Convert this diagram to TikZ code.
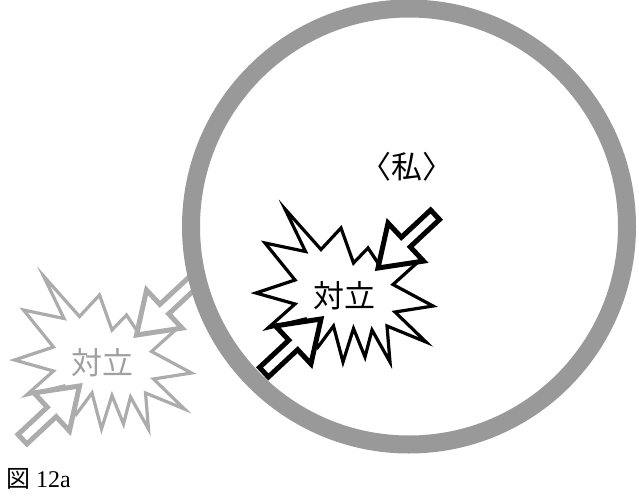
\documentclass[tikz,border=0pt]{standalone}
\usepackage{fontspec}
\setmainfont{Liberation Serif}
\newfontfamily\jp{Noto Sans CJK JP}
\definecolor{ringgray}{RGB}{153,153,153}
\definecolor{fadegray}{RGB}{172,172,172}
\definecolor{fadetext}{RGB}{160,160,160}
\tikzset{
  burst/.style={draw=#1, fill=white, line width=3.2pt, line join=miter, miter limit=20},
  blockarrow/.style={draw=#1, fill=white, line width=5pt, line join=miter, miter limit=6},
  ring/.style={draw=ringgray, line width=18pt},
  jptext/.style={font=\jp\fontsize{31}{31}\selectfont},
}
\newcommand\starpath{(285,-209) -- (321,-249.5) -- (341,-228) -- (353.5,-263) -- (368,-248) -- (380,-266) -- (418,-262) -- (393,-284.5) -- (433,-306) -- (395,-312) -- (426,-342) -- (387,-326) -- (390,-362) -- (372,-330) -- (365,-357) -- (353.5,-328.5) -- (343,-362) -- (333.5,-326) -- (318,-347) -- (305.5,-319) -- (268,-328) -- (295,-304) -- (256,-293) -- (295,-280) -- (265,-243) -- (305.5,-251.5) -- cycle}
\newcommand\arrowpath{(0,0) -- (38,26) -- (38,6.5) -- (78,6.5) -- (78,-6.5) -- (38,-6.5) -- (38,-26) -- cycle}
\newcommand\conflict[3]{% name, line colour, text colour
  \draw[burst=#2] \starpath;
  \node[jptext, text=#3] (#1-label) at (344,-296) {対立};
  \begin{scope}[shift={(378,-268)}, rotate=43]
    \draw[blockarrow=#2] \arrowpath;
  \end{scope}
  \begin{scope}[shift={(321,-319)}, rotate=223]
    \draw[blockarrow=#2] \arrowpath;
  \end{scope}
}
\begin{document}
\begin{tikzpicture}[x=1pt,y=1pt]
  \useasboundingbox (0,0) rectangle (639,-500);
  \begin{scope}[shift={(-241.5,-67)}]
    \conflict{outer}{fadegray}{fadetext}
  \end{scope}
  \draw[ring] (409,-226.5) circle (218);
  \conflict{inner}{black}{black}
  \node[jptext] (self) at (407,-167) {〈私〉};
  \node[anchor=base west, font=\fontsize{24}{24}\selectfont, inner sep=0pt] (caption) at (6,-487) {{\jp 図} 12a};
\end{tikzpicture}
\end{document}
